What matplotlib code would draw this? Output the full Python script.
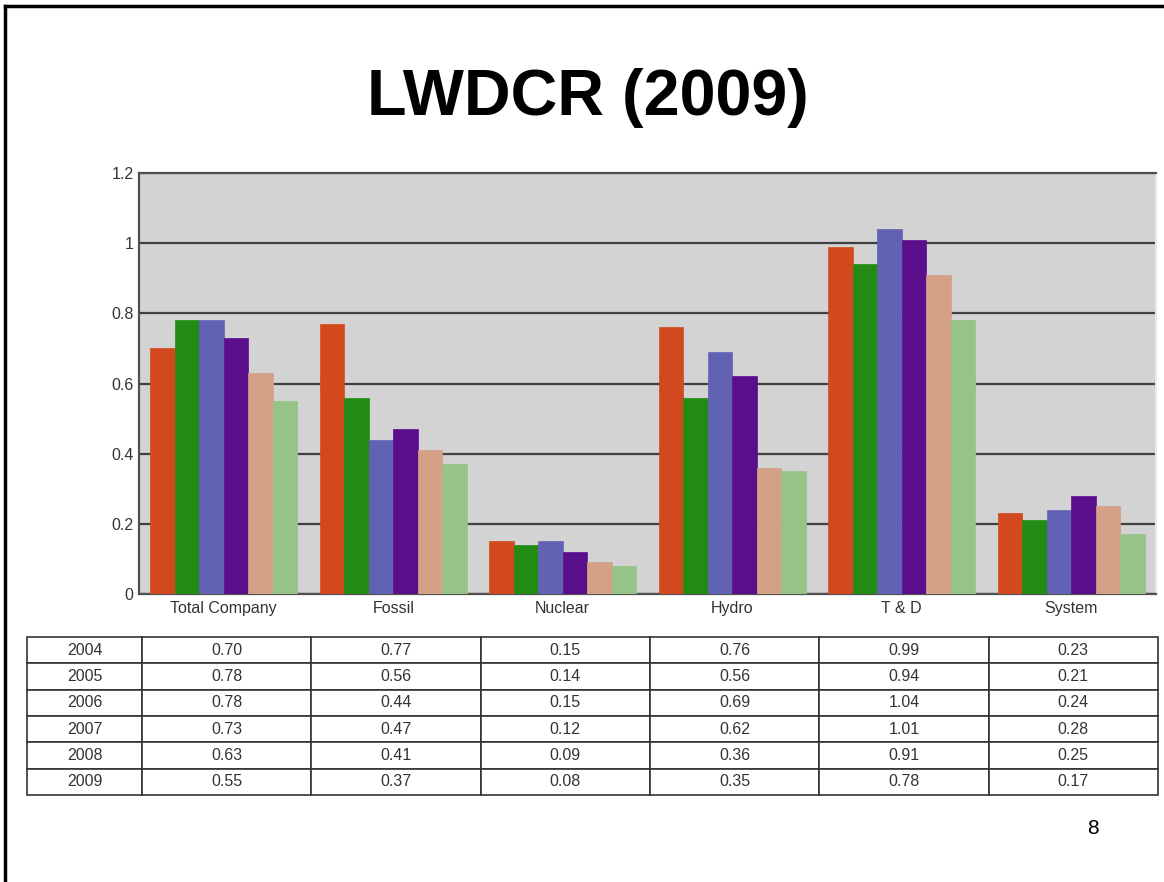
import matplotlib.pyplot as plt
import numpy as np
from matplotlib.lines import Line2D

plt.rcParams['font.family'] = ['Liberation Sans', 'DejaVu Sans']

categories = ["Total Company", "Fossil", "Nuclear", "Hydro", "T & D", "System"]
years = ["2004", "2005", "2006", "2007", "2008", "2009"]
v2004 = [0.70, 0.77, 0.15, 0.76, 0.99, 0.23]
v2005 = [0.78, 0.56, 0.14, 0.56, 0.94, 0.21]
v2006 = [0.78, 0.44, 0.15, 0.69, 1.04, 0.24]
v2007 = [0.73, 0.47, 0.12, 0.62, 1.01, 0.28]
v2008 = [0.63, 0.41, 0.09, 0.36, 0.91, 0.25]
v2009 = [0.55, 0.37, 0.08, 0.35, 0.78, 0.17]
series = [v2004, v2005, v2006, v2007, v2008, v2009]
colors = ["#D2491E", "#228B14", "#6262B4", "#5A0E8C", "#D4A186", "#97C388"]

W, H = 1164, 882
fig = plt.figure(figsize=(W / 100, H / 100), dpi=100)

def px_axes(x0, y0, x1, y1):
    return fig.add_axes([x0 / W, 1 - y1 / H, (x1 - x0) / W, (y1 - y0) / H])

# slide border (left and top visible)
fig.add_artist(Line2D([5 / W, 5 / W], [0, 1 - 6 / H], color="black", lw=2.5))
fig.add_artist(Line2D([5 / W, 1], [1 - 6 / H, 1 - 6 / H], color="black", lw=2.5))

fig.text(588 / W, 1 - 98 / H, "LWDCR (2009)", ha="center", va="center",
         fontsize=46.5, fontweight="bold", color="black")
fig.text(1093 / W, 1 - 828 / H, "8", ha="center", va="center", fontsize=15)

# bar chart
ax = px_axes(139, 173, 1156, 594)
ax.set_facecolor("#D3D3D3")
x = np.arange(len(categories))
w = 0.1445
for j, (vals, c) in enumerate(zip(series, colors)):
    ax.bar(x + (j - 2.5) * w, vals, width=w, color=c, edgecolor=c, lw=0.5, zorder=3)
ax.set_xlim(-0.5, len(categories) - 0.5)
ax.set_ylim(0, 1.2)
ax.set_yticks([0, 0.2, 0.4, 0.6, 0.8, 1.0, 1.2])
ax.set_yticklabels(["0", "0.2", "0.4", "0.6", "0.8", "1", "1.2"])
ax.yaxis.grid(True, color="#404040", lw=1.6, zorder=1)
ax.set_axisbelow(True)
ax.set_xticks(x)
ax.set_xticklabels(categories)
ax.tick_params(length=0, labelsize=11.5, colors="#333333", pad=4)
ax.tick_params(axis="x", pad=5)
for s in ["left", "top", "bottom"]:
    ax.spines[s].set_color("#505050")
    ax.spines[s].set_linewidth(1.6)
ax.spines["right"].set_color("#E8E8E8")
ax.spines["right"].set_linewidth(1.5)

# data table
tax = px_axes(27, 637, 1158, 795)
tax.axis("off")
cells = [[years[r]] + ["%.2f" % s[c] for c in range(len(categories))]
         for r, s in enumerate(series)]
colw = [115] + [(1158 - 142) / 6] * 6
tbl = tax.table(cellText=cells, bbox=[0, 0, 1, 1],
                colWidths=[c / sum(colw) for c in colw], cellLoc="center")
tbl.auto_set_font_size(False)
tbl.set_fontsize(11.5)
for cell in tbl.get_celld().values():
    cell.set_edgecolor("#333333")
    cell.set_linewidth(1.2)
    cell.get_text().set_color("#333333")

fig.savefig("out.png", dpi=100)
